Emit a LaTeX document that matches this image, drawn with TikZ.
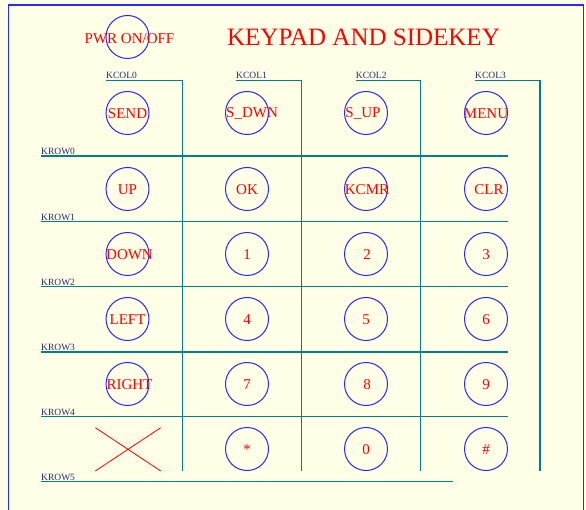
\documentclass[tikz,border=0pt]{standalone}
\usepackage{fontspec}
\setmainfont{Liberation Serif}
\usepackage{xcolor}

\definecolor{padbg}{RGB}{255,255,232}
\definecolor{keyblue}{RGB}{40,40,255}
\definecolor{wireteal}{RGB}{0,128,128}
\definecolor{labnavy}{RGB}{40,40,120}

\begin{document}
\begin{tikzpicture}[x=1pt, y=-1pt,
    key/.style={circle, draw=keyblue, line width=1pt, minimum size=43pt, inner sep=0pt},
    keytext/.style={text=red, font=\fontsize{15}{18}\selectfont, inner sep=0pt},
    wire/.style={draw=wireteal, line width=1.3pt},
    wirelabel/.style={text=labnavy, font=\fontsize{9.5}{11}\selectfont, inner sep=0pt, anchor=base west}]
    % Fundo e moldura
    \fill[padbg] (0,0) rectangle (586,510);
    \useasboundingbox (0,0) rectangle (586,510);
    \draw[keyblue, line width=1.2pt] (8.3,510) -- (8.3,5) -- (583.3,5) -- (583.3,510);

    % Titulo
    \node[text=red, font=\fontsize{25}{30}\selectfont, anchor=base, inner sep=0pt] (title) at (363.5,46) {KEYPAD AND SIDEKEY};

    % Colunas KCOL
    \foreach \i/\xa/\xb in {0/106/182.3, 1/236/301.7, 2/355.7/420.7, 3/475/540} {
        \node[wirelabel] (kcol\i) at (\xa,79) {KCOL\i};
        \draw[wire] (\xa,80.3) -- (\xb,80.3) -- (\xb,471);
    }

    % Linhas KROW
    \foreach \i/\y/\xb in {0/156/507.7, 1/221.7/507.7, 2/286.7/507.7, 3/352/507.7, 4/416.7/507.7, 5/481.7/453} {
        \node[wirelabel] (krow\i) at (41,\y-1.5) {KROW\i};
        \draw[wire] (41,\y) -- (\xb,\y);
    }

    % Tecla lateral
    \node[key] (pwr) at (127.5,37) {};
    \node[keytext] (pwr-t) at (129.5,38.5) {PWR ON/OFF};

    % Teclas
    \foreach \n/\x/\y/\t/\dx in {send/127.5/113/SEND/0, sdwn/247/113/S\_DWN/5, sup/366/113/S\_UP/-3, menu/486/113/MENU/0,
            up/127.5/189/UP/0, ok/247/189/OK/0, kcmr/366/189/KCMR/1, clr/486/189/CLR/3,
            down/127.5/254/DOWN/2, one/247/254/1/0, two/366/254/2/1, three/486/254/3/0,
            left/127.5/319/LEFT/0, four/247/319/4/0, five/366/319/5/0, six/486/319/6/0,
            right/127.5/384/RIGHT/2, seven/247/384/7/0, eight/366/384/8/1, nine/486/384/9/0,
            star/247/449/*/0, zero/366/449/0/0, hash/486/449/\#/0} {
        \node[key] (\n) at (\x,\y) {};
        \node[keytext] (\n-t) at (\x+\dx,\y+1) {\t};
    }

    % Posicao sem tecla
    \draw[red, line width=0.8pt] (95.3,427.7) -- (160.7,471) (95.3,471) -- (160.7,427.7);
\end{tikzpicture}
\end{document}
